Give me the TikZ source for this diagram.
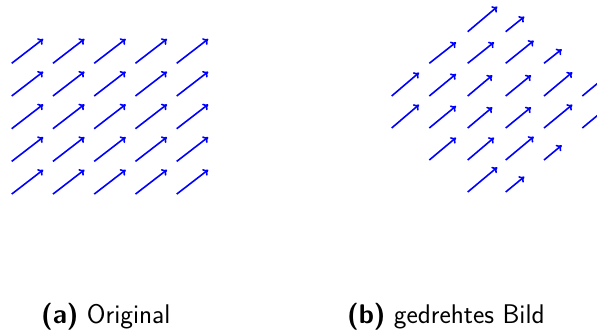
\documentclass[tikz,border=0pt]{standalone}
\usetikzlibrary{arrows.meta}
\begin{document}
\begin{tikzpicture}[x=1pt,y=-1pt,
  vec/.style={blue,line width=1.6pt,-{To[length=5pt,width=8pt]}},
  captext/.style={anchor=base west,inner sep=0pt,font=\sffamily\fontsize{27}{32}\selectfont}]
\useasboundingbox (0,0) rectangle (597,333);
\clip (0,0) rectangle (597,333);
% (a) original grid
\foreach \i in {0,...,4}{
  \foreach \j in {0,...,4}{
    \draw[vec] ({11.7+41.25*\i},{63.3+32.7*\j}) -- ++(31.5,-24.3);
  }
}
% (b) rotated image
\foreach \xa/\ya/\xb/\yb in {
  467.7/31.7/497.3/6.7, 505.7/31.7/524.3/16.7,
  429.3/63.3/456/42.3, 467.7/63.3/494/42.3, 505.7/63.3/533.7/40.7, 544/63.3/561.7/49.3,
  391.7/96/419/72.7, 429.3/96/456/74, 467.7/96/492.3/75.3, 505.7/96/531/75.3, 544/96/572.3/72.3, 582.3/96/610/73,
  391.7/128/419/104.7, 429.3/128/456/106, 467.7/128/492.3/107.3, 505.7/128/531/107.3, 544/128/572.3/104.7, 582.3/128/610/105,
  429.3/160/456/137.7, 467.7/160/494/137.7, 505.7/160/533.7/136.7, 544/160/561.7/145.3,
  467.7/192/497.3/167.3, 505.7/192/524.3/176.7}{
  \draw[vec] (\xa,\ya) -- (\xb,\yb);
}
\node[captext] (capa) at (41,323.5) {\textbf{(a)} Original};
\node[captext] (capb) at (347,323.5) {\textbf{(b)} gedrehtes Bild};
\end{tikzpicture}
\end{document}
